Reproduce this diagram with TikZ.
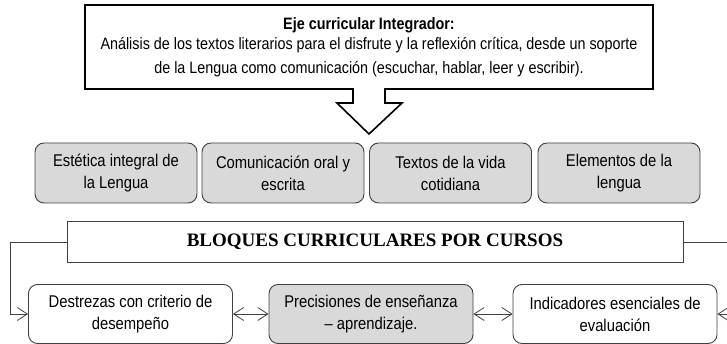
\documentclass[tikz,border=0pt]{standalone}
\usepackage{fontspec}
\setmainfont[FakeStretch=0.87]{Liberation Sans}
\newfontfamily\bloquesfont{Liberation Serif}
\usetikzlibrary{arrows.meta,positioning,calc}

\definecolor{linegray}{HTML}{404040}
\definecolor{boxgray}{HTML}{D9D9D9}

\tikzset{
    ejebox/.style={draw, line width=1.6pt, minimum width=568pt, minimum height=84pt, align=center,
        font=\fontsize{16.5}{20}\selectfont},
    temabox/.style={draw=linegray, line width=0.9pt, fill=boxgray, rounded corners=9pt,
        minimum width=162pt, minimum height=60pt, align=center, font=\fontsize{17}{22}\selectfont},
    bloquebox/.style={draw=linegray, line width=0.9pt, rounded corners=9pt,
        minimum width=204pt, minimum height=59pt, align=center, font=\fontsize{17}{22}\selectfont},
    conector/.style={draw=linegray, line width=0.8pt}
}

\begin{document}
\begin{tikzpicture}[x=1pt,y=-1pt,>={Straight Barb[length=10pt,width=13pt]}]
    \clip (0,0) rectangle (727,344);

    % Eje integrador
    \node[ejebox] (eje) at (369,47) {\textbf{Eje curricular Integrador:}\\
        An\'alisis de los textos literarios para el disfrute y la reflexi\'on cr\'itica, desde un soporte\\[4pt]
        de la Lengua como comunicaci\'on (escuchar, hablar, leer y escribir).};

    % Block arrow
    \draw[line width=1.6pt, fill=white] (353,89) -- (353,103) -- (337,103) -- (369,134)
        -- (402,103) -- (385,103) -- (385,89);
    \fill[white] (354.2,87.9) rectangle (383.8,90.6);

    % Ejes tematicos
    \node[temabox] (estetica) at (116,173) {Est\'etica integral de\\la Lengua};
    \node[temabox] (comunicacion) at (283,173) {Comunicaci\'on oral y\\escrita};
    \node[temabox] (textos) at (450.5,173) {Textos de la vida\\cotidiana};
    \node[temabox] (elementos) at (619,173) {Elementos de la\\lengua};

    % Bloques
    \node[draw=linegray, line width=0.9pt, minimum width=616pt, minimum height=41pt,
        font=\bloquesfont\bfseries\fontsize{19}{22}\selectfont] (bloques) at (375,242)
        {BLOQUES CURRICULARES POR CURSOS};

    \node[bloquebox] (destrezas) at (130.5,314) {Destrezas con criterio de\\desempe\~no};
    \node[bloquebox, fill=boxgray] (precisiones) at (371,314) {Precisiones de ense\~nanza\\-- aprendizaje.};
    \node[bloquebox] (indicadores) at (615,314) {Indicadores esenciales de\\evaluaci\'on};

    % Connectors
    \draw[conector,->] (bloques.west) -- ++(-56,0) |- (destrezas.west);
    \draw[conector,->] (bloques.east) -- ++(60,0) |- (indicadores.east);
    \draw[conector,<->] (destrezas.east) -- (precisiones.west);
    \draw[conector,<->] (precisiones.east) -- (indicadores.west);
\end{tikzpicture}
\end{document}
